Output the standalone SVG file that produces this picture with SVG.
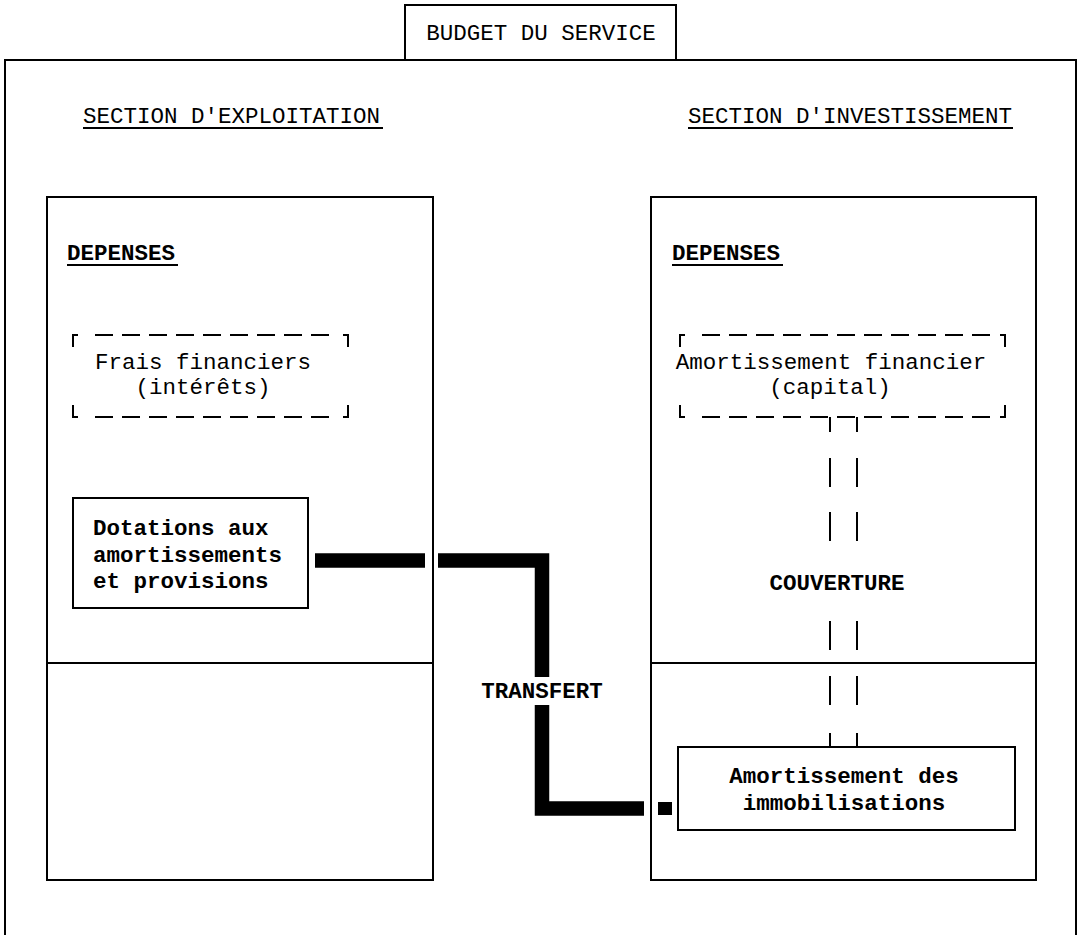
<svg xmlns="http://www.w3.org/2000/svg" width="1081" height="935" viewBox="0 0 1081 935">
<style>
  .t { font-family: "Liberation Mono", "Courier New", monospace; font-size: 22.5px; fill: #000; }
  .b { font-weight: bold; }
  .box { fill: none; stroke: #000; stroke-width: 2; }
  .ul { stroke: #000; stroke-width: 2; }
  .dash { fill: none; stroke: #000; stroke-width: 2; stroke-dasharray: 18 9; }
  .corner { fill: none; stroke: #000; stroke-width: 2; }
  .thick { fill: none; stroke: #000; stroke-width: 14.5; stroke-linejoin: miter; stroke-linecap: butt; }
  .cov { stroke: #000; stroke-width: 2; }
</style>
<rect width="1081" height="935" fill="#fff"/>

<g id="frame">
  <path class="box" d="M5,935 V60 H1076 V935"/>
</g>

<g id="title">
  <rect class="box" x="405" y="5" width="271" height="55"/>
  <text class="t" x="541" y="40" text-anchor="middle">BUDGET DU SERVICE</text>
</g>

<g id="section-exploitation">
  <text class="t" x="83" y="123">SECTION D'EXPLOITATION</text>
  <line class="ul" x1="83" y1="128" x2="383" y2="128"/>
  <rect class="box" x="47" y="197" width="386" height="683"/>
  <line class="ul" x1="47" y1="663" x2="433" y2="663"/>
  <text class="t b" x="67" y="260">DEPENSES</text>
  <line class="ul" x1="67" y1="265" x2="178" y2="265"/>
</g>

<g id="section-investissement">
  <text class="t" x="688" y="123">SECTION D'INVESTISSEMENT</text>
  <line class="ul" x1="688" y1="128" x2="1013" y2="128"/>
  <rect class="box" x="651" y="197" width="385" height="683"/>
  <line class="ul" x1="651" y1="663" x2="1036" y2="663"/>
  <text class="t b" x="672" y="260">DEPENSES</text>
  <line class="ul" x1="672" y1="265" x2="783" y2="265"/>
</g>

<g id="frais-financiers">
  <path class="corner" d="M73,347 V335 H78 M343,335 H348 V347 M73,405 V417 H78 M343,417 H348 V405"/>
  <line class="dash" x1="95" y1="335" x2="329" y2="335"/>
  <line class="dash" x1="95" y1="417" x2="329" y2="417"/>
  <text class="t" x="203" y="369" text-anchor="middle">Frais financiers</text>
  <text class="t" x="203" y="394" text-anchor="middle">(intérêts)</text>
</g>

<g id="amortissement-financier">
  <path class="corner" d="M680,347 V335 H685 M1000,335 H1005 V347 M680,405 V417 H685 M1000,417 H1005 V405"/>
  <line class="dash" x1="702" y1="335" x2="990" y2="335"/>
  <line class="dash" x1="702" y1="417" x2="990" y2="417"/>
  <text class="t" x="831" y="369" text-anchor="middle">Amortissement financier</text>
  <text class="t" x="830" y="394" text-anchor="middle">(capital)</text>
</g>

<g id="dotations">
  <rect class="box" x="73" y="498" width="235" height="110"/>
  <text class="t b" x="93" y="535">Dotations aux</text>
  <text class="t b" x="93" y="562">amortissements</text>
  <text class="t b" x="93" y="588">et provisions</text>
</g>

<g id="amortissement-immobilisations">
  <rect class="box" x="678" y="747" width="337" height="83"/>
  <text class="t b" x="844" y="783" text-anchor="middle">Amortissement des</text>
  <text class="t b" x="844" y="810" text-anchor="middle">immobilisations</text>
</g>

<g id="connectors">
  <g id="transfert">
    <path class="thick" d="M315,560.5 H425"/>
    <path class="thick" d="M438,560.5 H542 V677"/>
    <path class="thick" d="M542,705 V808.5 H644"/>
    <rect x="658" y="802" width="14" height="13" fill="#000"/>
    <text class="t b" x="542" y="698" text-anchor="middle">TRANSFERT</text>
  </g>
  <g id="couverture">
    <path class="cov" d="M830,417 V432 M857,417 V432 M830,458 V487 M857,458 V487 M830,512 V541 M857,512 V541 M830,621 V650 M857,621 V650 M830,676 V705 M857,676 V705 M830,733 V747 M857,733 V747"/>
    <text class="t b" x="837" y="590" text-anchor="middle">COUVERTURE</text>
  </g>
</g>
</svg>
